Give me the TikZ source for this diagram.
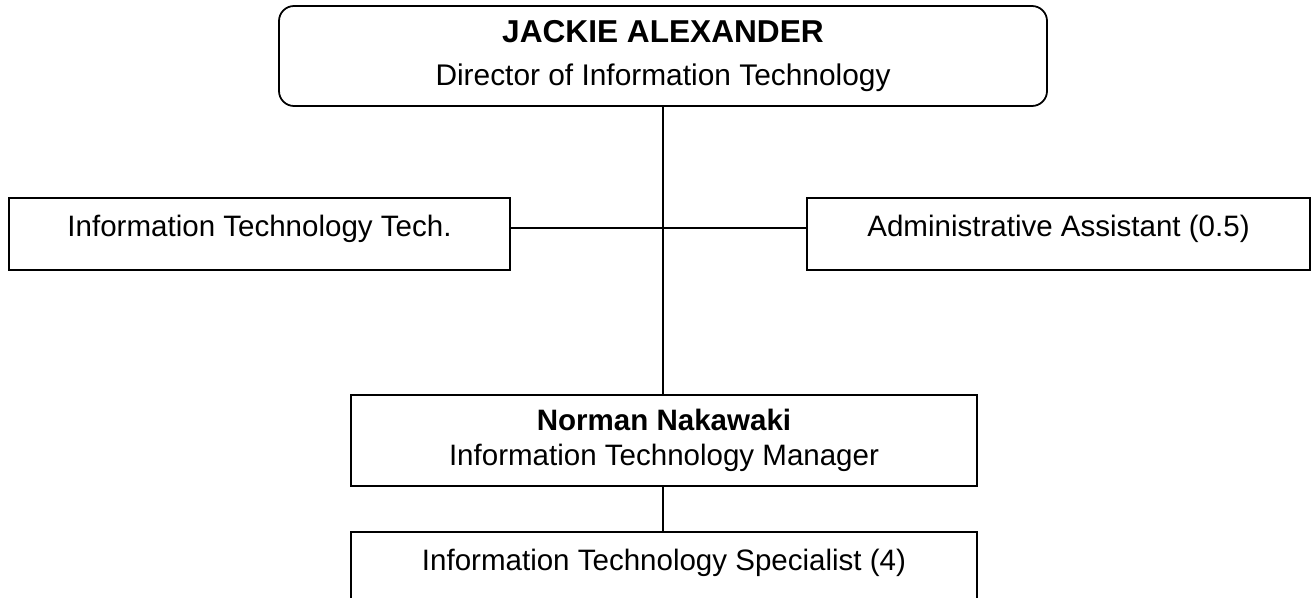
\documentclass[tikz,border=0pt]{standalone}
\usepackage{fontspec}
\setmainfont{Liberation Sans}
\usepackage{tikz}
\usetikzlibrary{positioning,calc}

\begin{document}
\begin{tikzpicture}[line width=1pt,
  post/.style={draw,inner sep=0pt,align=center,font=\fontsize{16.8}{20}\selectfont},
  single/.style={post,text height=0.45cm,text depth=0.35cm},
  head/.style={post,rounded corners=0.3cm,font=\fontsize{17}{24}\selectfont}]
\useasboundingbox (0,0) rectangle (26.22,11.94);
\node[head,minimum width=15.36cm,minimum height=2.0cm] (dir) at (13.26,10.82)
  {\fontsize{18}{24}\selectfont\textbf{JACKIE ALEXANDER}\\Director of Information Technology};
\node[single,minimum width=10.02cm,minimum height=1.44cm] (tech) at (5.19,7.26)
  {Information Technology Tech.};
\node[single,minimum width=10.06cm,minimum height=1.44cm] (adm) at (21.17,7.26)
  {Administrative Assistant (0.5)};
\node[post,minimum width=12.52cm,minimum height=1.82cm] (mgr) at (13.28,3.13)
  {\textbf{Norman Nakawaki}\\Information Technology Manager};
\node[single,minimum width=12.52cm,minimum height=1.44cm] (spec) at (13.28,0.58)
  {Information Technology Specialist (4)};

\draw (dir.south) -- (dir.south |- mgr.north);
\draw ([yshift=0.12cm]tech.east) -- ([yshift=0.12cm]adm.west);
\draw (dir.south |- mgr.south) -- (dir.south |- spec.north);
\end{tikzpicture}
\end{document}
